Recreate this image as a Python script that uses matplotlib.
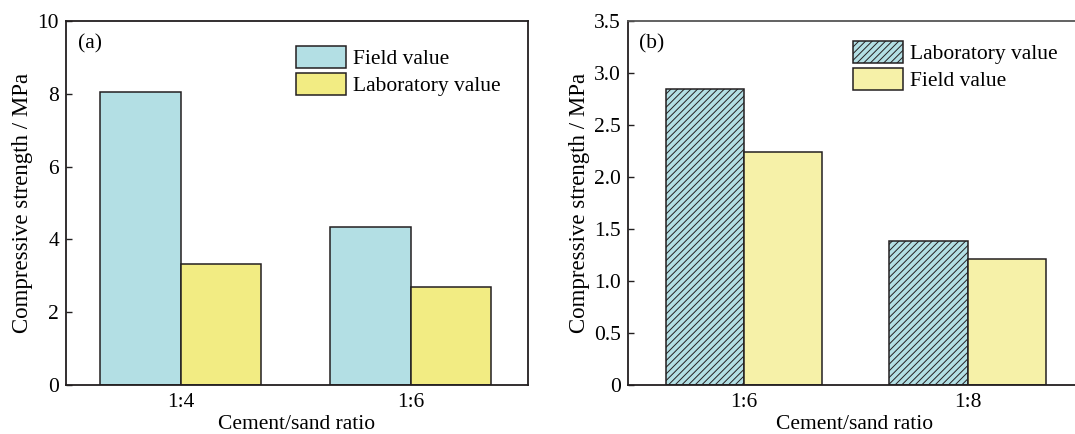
import matplotlib
matplotlib.use("Agg")
import matplotlib.pyplot as plt
import numpy as np

plt.rcParams['font.family'] = ['Liberation Serif', 'DejaVu Serif']
plt.rcParams['hatch.linewidth'] = 0.7
plt.rcParams['hatch.color'] = '#231f20'

# Panel (a)
cats_a = ["1:4", "1:6"]
field_a = [8.05, 4.34]
lab_a = [3.32, 2.69]

# Panel (b)
cats_b = ["1:6", "1:8"]
lab_b = [2.85, 1.38]
field_b = [2.24, 1.21]

dark = '#231f20'
blue = '#b3dfe4'
yellow_a = '#f2ec83'
yellow_b = '#f6f1a8'
fs = 15.5

fig = plt.figure(figsize=(10.75, 4.34), dpi=100)
W, H = 1075, 434
ax1 = fig.add_axes([66 / W, 1 - 385 / H, (528 - 66) / W, (385 - 21) / H])
ax2 = fig.add_axes([628 / W, 1 - 385 / H, (1082 - 628) / W, (385 - 21) / H])

w = 0.35
x = np.arange(len(cats_a))
ax1.bar(x - w / 2, field_a, w, color=blue, edgecolor=dark, linewidth=1.1, label="Field value")
ax1.bar(x + w / 2, lab_a, w, color=yellow_a, edgecolor=dark, linewidth=1.1, label="Laboratory value")
ax1.set_xlim(-0.5, 1.51)
ax1.set_ylim(0, 10)
ax1.set_yticks([0, 2, 4, 6, 8, 10])
ax1.set_xticks(x)
ax1.set_xticklabels(cats_a)
ax1.text(0.025, 0.965, "(a)", transform=ax1.transAxes, fontsize=fs, va='top', ha='left')
ax1.legend(loc='upper left', bbox_to_anchor=(0.498, 0.931), frameon=False, fontsize=fs,
           handlelength=2.3, handleheight=1.2, handletextpad=0.35, labelspacing=0.15,
           borderaxespad=0, borderpad=0)

xb = np.arange(len(cats_b))
ax2.bar(xb - w / 2, lab_b, w, color=blue, edgecolor=dark, linewidth=1.1, hatch='/////',
        label="Laboratory value")
ax2.bar(xb + w / 2, field_b, w, color=yellow_b, edgecolor=dark, linewidth=1.1, label="Field value")
ax2.set_xlim(-0.518, 1.51)
ax2.set_ylim(0, 3.5)
ax2.set_yticks([0, 0.5, 1.0, 1.5, 2.0, 2.5, 3.0, 3.5])
ax2.set_yticklabels(["0", "0.5", "1.0", "1.5", "2.0", "2.5", "3.0", "3.5"])
ax2.set_xticks(xb)
ax2.set_xticklabels(cats_b)
ax2.text(0.025, 0.965, "(b)", transform=ax2.transAxes, fontsize=fs, va='top', ha='left')
ax2.legend(loc='upper left', bbox_to_anchor=(0.496, 0.945), frameon=False, fontsize=fs,
           handlelength=2.3, handleheight=1.2, handletextpad=0.35, labelspacing=0.15,
           borderaxespad=0, borderpad=0)

for ax in (ax1, ax2):
    for s in ax.spines.values():
        s.set_color(dark)
        s.set_linewidth(1.3)
    ax.tick_params(axis='y', direction='in', length=4, width=1.0, color=dark,
                   labelsize=fs, pad=5)
    ax.tick_params(axis='x', length=0, labelsize=fs, pad=6)
    ax.set_xlabel("Cement/sand ratio", fontsize=fs, labelpad=2)
    ax.set_ylabel("Compressive strength / MPa", fontsize=16.5, labelpad=3)
ax2.spines['top'].set_color('#555555')

fig.savefig("out.png", dpi=100)
